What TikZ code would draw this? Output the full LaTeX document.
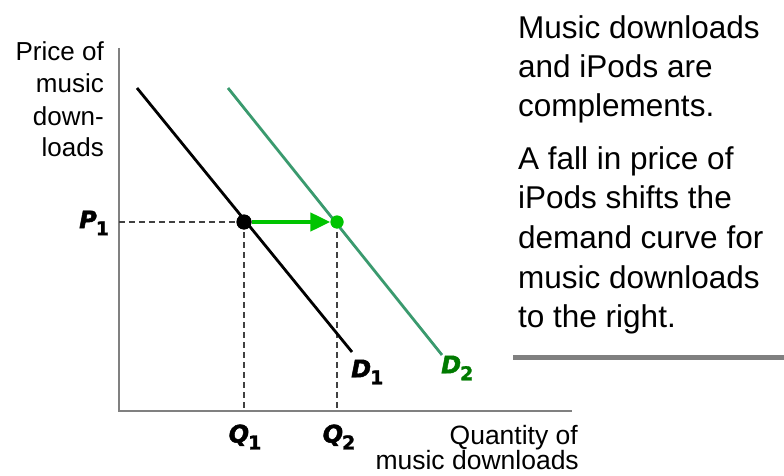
\documentclass[tikz,border=0pt]{standalone}
\usepackage{fontspec}
\setmainfont{Liberation Sans}
\newfontface\labletter[FakeBold=2]{DejaVu Sans Bold Oblique}
\newfontface\labdigit[FakeBold=1.5]{DejaVu Sans Bold}
\usetikzlibrary{arrows.meta}
\definecolor{axisgray}{HTML}{808080}
\definecolor{dtwo}{HTML}{3A9A6E}
\definecolor{brightgreen}{HTML}{00C400}
\definecolor{darkgreen}{HTML}{007A00}
\newcommand{\curvelab}[2]{{\labletter\fontsize{24}{24}\selectfont #1}\kern-1pt\raisebox{-7pt}{\labdigit\fontsize{19}{19}\selectfont #2}}
\begin{document}
\begin{tikzpicture}[x=1pt,y=-1pt,
  axisline/.style={draw=axisgray,line width=1.6pt},
  guide/.style={draw=black!75,line width=1.2pt,dash pattern=on 6pt off 4pt},
  lbl/.style={inner sep=0pt,font=\fontsize{26}{32}\selectfont},
  xlbl/.style={inner sep=0pt,font=\fontsize{26.5}{32}\selectfont},
  bigtxt/.style={inner sep=0pt,anchor=base west,font=\fontsize{31.5}{39}\selectfont},
  curvetag/.style={inner sep=0pt},
  blackdot/.style={circle,fill=black,inner sep=0pt,minimum size=15pt},
  greendot/.style={circle,fill=brightgreen,inner sep=0pt,minimum size=13pt}]
\useasboundingbox (0,0) rectangle (784,476);
% axes
\coordinate (O) at (119,411);
\coordinate (ytop) at (119,48);
\coordinate (xend) at (572,411);
\draw[axisline] (ytop) -- (O) -- (xend);
% guides
\coordinate (p1ax) at (119,222);
\coordinate (q1ax) at (244,411);
\coordinate (q2ax) at (337,411);
\node[blackdot] (e1) at (244,222) {};
\node[greendot] (e2) at (337,222) {};
\draw[guide] (p1ax) -- (e1.center);
\draw[guide] (e1.center) -- (q1ax);
\draw[guide] (e2.center) -- (q2ax);
% demand curves
\coordinate (d1a) at (137,88);
\coordinate (d1b) at (352,352);
\coordinate (d2a) at (228,88);
\coordinate (d2b) at (442,355);
\draw[black,line width=2.8pt] (d1a) -- (d1b);
\draw[dtwo,line width=2.8pt] (d2a) -- (d2b);
\node[blackdot] at (e1) {};
\node[greendot] at (e2) {};
% shift arrow
\draw[brightgreen,line width=4.5pt,-{Triangle[length=20pt,width=18pt]}] (e1.east) -- (e2.west);
% labels
\node[curvetag,anchor=west] (p1) at (79,223) {\curvelab{P}{1}};
\node[curvetag] (q1) at (245,437) {\curvelab{Q}{1}};
\node[curvetag] (q2) at (339,437) {\curvelab{Q}{2}};
\node[curvetag,anchor=west] (dl1) at (351,372) {\curvelab{D}{1}};
\node[curvetag,anchor=west] (dl2) at (441,368) {\color{darkgreen}\curvelab{D}{2}};
% axis titles
\node[lbl,anchor=base east] (yl1) at (104,61) {Price of};
\node[lbl,anchor=base east] (yl2) at (104,93) {music};
\node[lbl,anchor=base east] (yl3) at (104,125) {down-};
\node[lbl,anchor=base east] (yl4) at (104,157) {loads};
\node[xlbl,anchor=base east] (xl1) at (578,444) {Quantity of};
\node[xlbl,anchor=base east] (xl2) at (579,469) {music downloads};
% explanatory text
\node[bigtxt] (t1) at (518,39) {Music downloads};
\node[bigtxt] (t2) at (518,78) {and iPods are};
\node[bigtxt] (t3) at (518,117) {complements.};
\node[bigtxt] (t4) at (518,169) {A fall in price of};
\node[bigtxt] (t5) at (518,208) {iPods shifts the};
\node[bigtxt] (t6) at (518,248) {demand curve for};
\node[bigtxt] (t7) at (518,288) {music downloads};
\node[bigtxt] (t8) at (518,327) {to the right.};
% rule
\coordinate (ruleA) at (513,357);
\coordinate (ruleB) at (784,357);
\draw[draw=axisgray,line width=5pt] (ruleA) -- (ruleB);
\end{tikzpicture}
\end{document}
